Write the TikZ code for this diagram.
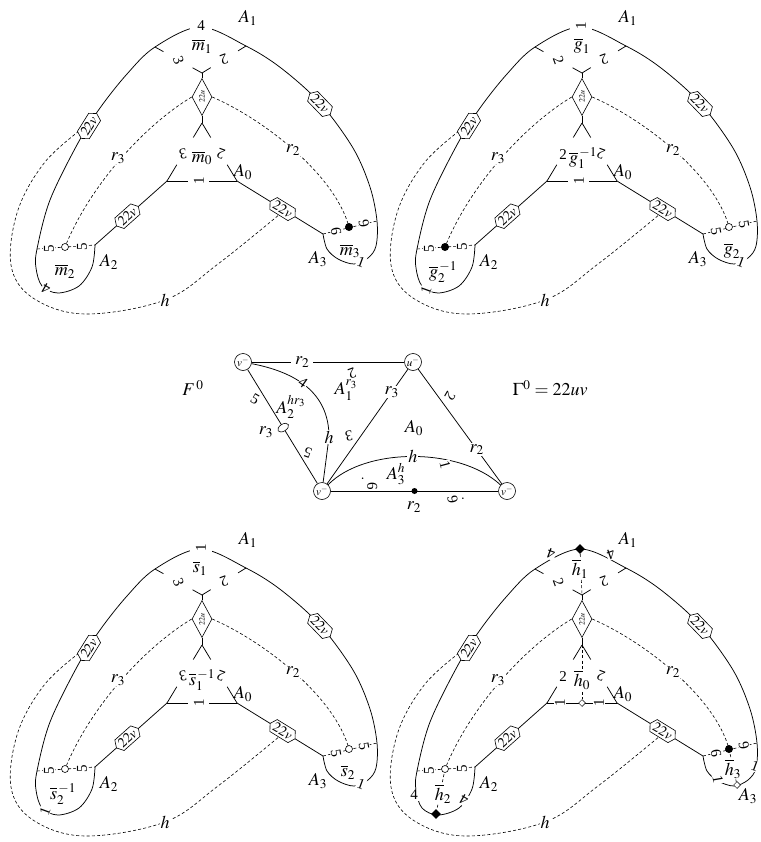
\documentclass[tikz,border=0pt]{standalone}
\usepackage{mathptmx}
\usepackage{fontspec}
\setmainfont{Liberation Serif}
\usetikzlibrary{shapes.geometric, shapes.symbols, calc}

\begin{document}
\begin{tikzpicture}[
    x=1pt, y=-1pt,
    edge/.style={line width=0.75pt},
    dashln/.style={line width=0.6pt, dash pattern=on 3pt off 2.2pt},
    lbl/.style={font=\fontsize{18}{18}\selectfont, inner sep=1pt},
    num/.style={font=\fontsize{15}{15}\selectfont, fill=white, inner sep=0.8pt},
    hexv/.style={draw, fill=white, line width=0.6pt, signal, signal to=east and west,
        signal pointer angle=120, inner xsep=0.5pt, inner ysep=0.5pt, minimum height=14pt,
        font=\fontsize{14}{14}\selectfont},
    diamu/.style={draw, fill=white, line width=0.6pt, diamond, aspect=1.9, inner sep=0pt,
        minimum width=37pt, minimum height=20pt, font=\fontsize{8}{8}\selectfont},
    opendot/.style={circle, draw, fill=white, line width=0.6pt, inner sep=0pt, minimum size=7pt},
    fulldot/.style={circle, fill=black, inner sep=0pt, minimum size=8pt},
    bdiam/.style={diamond, fill=black, inner sep=0pt, minimum size=10pt},
    wdiam/.style={diamond, draw, fill=white, line width=0.5pt, inner sep=0pt, minimum size=7pt},
    vert/.style={circle, draw, fill=white, line width=0.6pt, inner sep=0pt, minimum size=17pt,
        font=\fontsize{11}{11}\selectfont}
]
\useasboundingbox (0,0) rectangle (760,842);

% common part of the four diagrams
\def\panelbase{
    \coordinate (YV) at (202,73);
    \coordinate (LT) at (155,47);
    \coordinate (RT) at (246,46);
    \coordinate (T)  at (202,123);
    \coordinate (TL) at (167,181);
    \coordinate (TR) at (237,181);
    \coordinate (E2) at (95,245);
    \coordinate (E3) at (323,234);
    \coordinate (W2) at (37,249);
    \coordinate (W3) at (377,221);
    \coordinate (C2) at (65,247);
    \coordinate (C3) at (349,227);
    % outer boundary with the lobes A_2 and A_3
    \draw[edge] plot[smooth, tension=0.55] coordinates {(95,245) (92,267) (79,286) (58,293)
        (42,286) (36,268) (37,249) (50,200) (78,143) (100,108) (127,74) (155,47) (200,27)
        (246,46) (281,68) (320,103) (353,148) (370,187) (377,221) (376,246) (368,258)
        (354,264) (338,259) (327,249) (323,234)};
    % diamond 22u, the Y and the triangle
    \node[diamu, rotate=90] (dm) at (202,97) {$22u$};
    \draw[edge] (YV) -- (dm);
    \draw[edge] (dm) -- (T);
    \draw[edge] (YV) -- ($(YV)!0.2!(LT)$) ($(LT)!0.18!(YV)$) -- (LT);
    \draw[edge] (YV) -- ($(YV)!0.2!(RT)$) ($(RT)!0.18!(YV)$) -- (RT);
    \draw[edge] (T) -- ($(T)!0.25!(TL)$) ($(TL)!0.28!(T)$) -- (TL);
    \draw[edge] (T) -- ($(T)!0.25!(TR)$) ($(TR)!0.28!(T)$) -- (TR);
    % dashed paths
    \draw[dashln] (dm.north) .. controls (145,125) and (90,185) .. (C2);
    \draw[dashln] (dm.south) .. controls (265,120) and (335,175) .. (C3);
    \draw[dashln] plot[smooth, tension=0.6] coordinates {(83,128) (45,162) (18,210) (11,265)
        (33,298) (85,314) (165,300) (218,264) (280,214)};
    \draw[dashln] (W2) -- (E2);
    \draw[dashln] (E3) -- (W3);
    % arms with hexagons
    \draw[edge] (TL) -- (E2) node[hexv, sloped, pos=0.55] (hA2) {$22v$};
    \draw[edge] (TR) -- (E3) node[hexv, sloped, pos=0.53] (hA3) {$22v$};
    \node[hexv, rotate=58] (hL) at (89,126) {$22v$};
    \node[hexv, rotate=-46] (hR) at (320,104) {$22v$};
    % labels
    \node[lbl, fill=white] (lr3) at (118,158) {$r_3$};
    \node[lbl, fill=white] (lr2) at (293,150) {$r_2$};
    \node[lbl, fill=white] (lh) at (165,300) {$h$};
    \node[lbl] (la1) at (248,18) {$A_1$};
    \node[lbl] (la0) at (243,172) {$A_0$};
    \node[lbl] (la2) at (109,262) {$A_2$};
}

% ---- diagram m
\begin{scope}
\panelbase
\node[num, minimum width=22pt] (mt) at (201,26) {4};
\node[lbl] (m1) at (202,46) {$\overline{m}_1$};
\node[num, rotate=-70] (mya) at ($(YV)!0.5!(LT)$) {3};
\node[num, rotate=200] (myb) at ($(YV)!0.5!(RT)$) {2};
\draw[edge] (TL) -- ($(TL)!0.3!(TR)$) ($(TR)!0.4!(TL)$) -- (TR);
\node[num, rotate=190] (mta) at ($(T)!0.54!(TL)$) {3};
\node[num, rotate=160] (mtb) at ($(T)!0.54!(TR)$) {2};
\node[num, rotate=90] (mtc) at (199,181) {1};
\node[lbl] (m0) at (202,158) {$\overline{m}_0$};
\node[opendot] (mc2) at (C2) {};
\node[num, rotate=90] (m5a) at (49,249) {5};
\node[num, rotate=90] (m5b) at (82,247) {5};
\node[num, rotate=150] (m4l) at (46,289) {4};
\node[lbl] (m2) at (65,271) {$\overline{m}_2$};
\node[fulldot] (mc3) at (C3) {};
\node[num, rotate=-80] (m6a) at (336,231) {6};
\node[num, rotate=100] (m6b) at (364,224) {6};
\node[num, rotate=-20] (m1l) at (361,262) {1};
\node[lbl] (m3) at (350,251) {$\overline{m}_3$};
\node[lbl] (ma3) at (318,259) {$A_3$};
\end{scope}

% ---- diagram g
\begin{scope}[shift={(380,0)}]
\panelbase
\node[num, rotate=90, minimum height=22pt] (gt) at (201,26) {1};
\node[lbl] (g1) at (202,46) {$\overline{g}_1$};
\node[num, rotate=-70] (gya) at ($(YV)!0.5!(LT)$) {2};
\node[num, rotate=200] (gyb) at ($(YV)!0.5!(RT)$) {2};
\draw[edge] (TL) -- ($(TL)!0.3!(TR)$) ($(TR)!0.4!(TL)$) -- (TR);
\node[num] (gta) at ($(T)!0.54!(TL)$) {2};
\node[num, rotate=160] (gtb) at ($(T)!0.54!(TR)$) {2};
\node[num, rotate=90] (gtc) at (199,181) {1};
\node[lbl] (g0) at (203,158) {$\overline{g}_1^{\,-1}$};
\node[fulldot] (gc2) at (C2) {};
\node[num, rotate=90] (g5a) at (49,249) {5};
\node[num, rotate=90] (g5b) at (82,247) {5};
\node[num, rotate=70] (g1l) at (46,290) {1};
\node[lbl] (g2i) at (63,272) {$\overline{g}_2^{\,-1}$};
\node[opendot] (gc3) at (C3) {};
\node[num, rotate=-80] (g5c) at (336,231) {5};
\node[num, rotate=-80] (g5d) at (364,224) {5};
\node[num, rotate=-20] (g1r) at (361,262) {1};
\node[lbl] (g2) at (352,251) {$\overline{g}_2$};
\node[lbl] (ga3) at (318,259) {$A_3$};
\end{scope}

% ---- the graph F^0
\node[lbl] (f0) at (193,388) {$F^{\,0}$};
\node[lbl] (gam) at (550,388) {$\Gamma^{0} = 22uv$};
\node[vert] (v1) at (243,362) {$v^-$};
\node[vert] (u1) at (413,362) {$u^-$};
\node[vert] (v2) at (322,491) {$v^-$};
\node[vert] (v3) at (507,491) {$v^-$};
\draw[edge] (v1) -- (u1) node[lbl, fill=white, pos=0.33, inner xsep=4pt] (fe1) {$r_2$};
\draw[edge] (v1) -- (v2) node[ellipse, draw, fill=white, line width=0.6pt, rotate=32, pos=0.51,
    minimum width=12pt, minimum height=7pt, inner sep=0pt] (fel) {};
\draw[edge] (v1) .. controls (295,372) and (329,392) .. (329,437)
    node[lbl, fill=white] (fe2) {$h$} -- (v2);
\draw[edge] (u1) -- (v2) node[lbl, fill=white, pos=0.2] (fe3) {$r_3$};
\draw[edge] (u1) -- (v3) node[lbl, fill=white, pos=0.7] (fe4) {$r_2$};
\draw[edge] (v2) .. controls (365,447) and (460,447) .. (v3)
    node[lbl, fill=white, pos=0.5] (fe5) {$h$};
\draw[edge] (v2) -- (v3) node[fulldot, pos=0.5, minimum size=6pt] (fbd) {};
\node[num, rotate=-35] (fn4) at (303,383) {4};
\node[num, fill=none, rotate=200] (fn2) at (352,373) {2};
\node[num, fill=none, rotate=-30] (fn5) at (255,399) {5};
\node[lbl] (fr3) at (266,432) {$r_3$};
\node[num, fill=none, rotate=160] (fn5b) at (308,453) {5};
\node[num, fill=none, rotate=190] (fn3) at (349,436) {3};
\node[num, fill=none, rotate=-120] (fn2b) at (450,396) {2};
\node[num, rotate=-75] (fn1) at (445,465) {1};
\node[num, fill=none] (fn6a) at (369,483) {$\cdot$\,\rotatebox{-90}{6}};
\node[num, fill=none] (fn6b) at (456,500) {\rotatebox{100}{6}\,$\cdot$};
\node[lbl] (fa2) at (291,407) {$A_2^{hr_3}$};
\node[lbl] (fa1) at (346,390) {$A_1^{r_3}$};
\node[lbl] (fa0) at (414,428) {$A_0$};
\node[lbl] (fa3) at (396,474) {$A_3^{h}$};
\node[lbl] (fr2) at (414,507) {$r_2$};

% ---- diagram s
\begin{scope}[shift={(0,522)}]
\panelbase
\node[num, rotate=90, minimum height=22pt] (st) at (201,26) {1};
\node[lbl] (s1) at (200,46) {$\overline{s}_1$};
\node[num, rotate=-70] (sya) at ($(YV)!0.5!(LT)$) {3};
\node[num, rotate=200] (syb) at ($(YV)!0.5!(RT)$) {2};
\draw[edge] (TL) -- ($(TL)!0.3!(TR)$) ($(TR)!0.4!(TL)$) -- (TR);
\node[num, rotate=190] (sta) at ($(T)!0.54!(TL)$) {3};
\node[num, rotate=160] (stb) at ($(T)!0.54!(TR)$) {2};
\node[num, rotate=90] (stc) at (199,181) {1};
\node[lbl] (s0) at (202,158) {$\overline{s}_1^{\,-1}$};
\node[opendot] (sc2) at (C2) {};
\node[num, rotate=90] (s5a) at (49,249) {5};
\node[num, rotate=90] (s5b) at (82,247) {5};
\node[num, rotate=70] (s1l) at (45,289) {1};
\node[lbl] (s2i) at (63,272) {$\overline{s}_2^{\,-1}$};
\node[opendot] (sc3) at (C3) {};
\node[num, rotate=-80] (s5c) at (336,231) {5};
\node[num, rotate=-80] (s5d) at (364,224) {5};
\node[num, rotate=-20] (s1r) at (361,262) {1};
\node[lbl] (s2) at (348,250) {$\overline{s}_2$};
\node[lbl] (sa3) at (318,259) {$A_3$};
\end{scope}

% ---- diagram h
\begin{scope}[shift={(380,522)}]
\panelbase
\draw[edge] (TL) -- (TR);
\node[bdiam] (kt) at (200,27) {};
\node[wdiam] (km) at (202,181) {};
\node[bdiam] (kl) at (56,292) {};
\node[wdiam] (kr) at (357,263) {};
\draw[dashln] (kt) -- (YV);
\draw[dashln] (T) -- (km);
\draw[dashln] (C2) -- (kl);
\draw[dashln] (C3) -- (kr);
\node[num, rotate=160] (h4a) at (171,32) {4};
\node[num, rotate=200] (h4b) at (231,32) {4};
\node[lbl, fill=white, inner sep=0.5pt] (h1) at (200,47) {$\overline{h}_1$};
\node[num, rotate=-70] (hya) at ($(YV)!0.5!(LT)$) {2};
\node[num, rotate=200] (hyb) at ($(YV)!0.5!(RT)$) {2};
\node[num] (hta) at ($(T)!0.54!(TL)$) {2};
\node[num, rotate=160] (htb) at ($(T)!0.54!(TR)$) {2};
\node[num, rotate=90] (htc) at (180,181) {1};
\node[num, rotate=90] (htd) at (219,181) {1};
\node[lbl, fill=white, inner sep=0.5pt] (h0) at (202,158) {$\overline{h}_0$};
\node[opendot] (hc2) at (C2) {};
\node[num, rotate=90] (h5a) at (49,249) {5};
\node[num, rotate=90] (h5b) at (82,247) {5};
\node[num] (h4c) at (34,273) {4};
\node[num, rotate=150] (h4d) at (84,278) {4};
\node[lbl, fill=white, inner sep=0.5pt] (h2) at (63,272) {$\overline{h}_2$};
\node[fulldot] (hc3) at (C3) {};
\node[num, rotate=-80] (h6a) at (336,231) {6};
\node[num, rotate=100] (h6b) at (364,224) {6};
\node[num, rotate=-80] (h1a) at (338,257) {1};
\node[num, rotate=-20] (h1b) at (375,244) {1};
\node[lbl, fill=white, inner sep=0.5pt] (h3) at (353,247) {$\overline{h}_3$};
\node[lbl] (ha3) at (368,274) {$A_3$};
\end{scope}

\end{tikzpicture}
\end{document}
